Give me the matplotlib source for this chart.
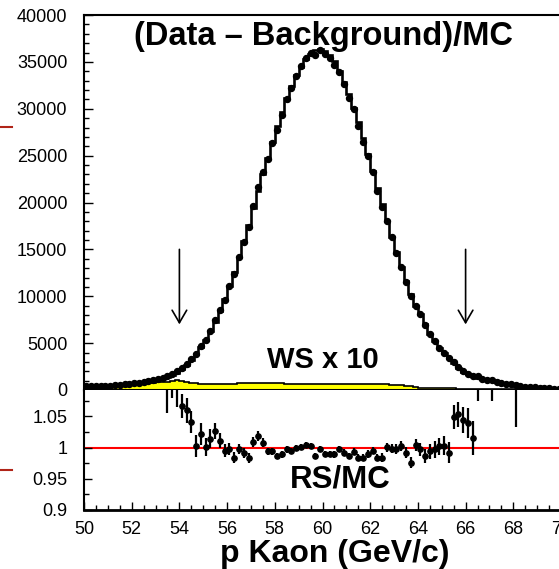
import matplotlib
matplotlib.use("Agg")
import matplotlib.pyplot as plt
from matplotlib.lines import Line2D
from matplotlib.ticker import MultipleLocator
import numpy as np

plt.rcParams['font.family'] = ['Liberation Sans', 'DejaVu Sans']

# MC histogram (RS), 0.2 GeV bins from 50 to 70
mc = np.array([
    400, 410, 420, 430, 450, 470, 510, 550, 590, 640,
    710, 790, 880, 970, 1060, 1150, 1250, 1370, 1560, 1850,
    2200, 2650, 3150, 3800, 4550, 5350, 6250, 7300, 8450, 9700,
    11100, 12600, 14200, 15900, 17650, 19450, 21250, 23050, 24800, 26500,
    28150, 29700, 31100, 32400, 33550, 34500, 35300, 35850, 36250, 36350,
    36150, 35750, 35100, 33980, 32870, 31580, 30130, 28570, 26910, 25170,
    23390, 21590, 19800, 18040, 16320, 14670, 13100, 11620, 10230, 8960,
    8100, 7000, 6000, 5200, 4500, 3950, 3400, 2850, 2350, 1950,
    1680, 1460, 1290, 1150, 1030, 930, 840, 760, 680, 600,
    470, 410, 360, 310, 270, 240, 200, 170, 140, 120,
])

# wrong-sign background x 10
ws = np.array([
    500, 510, 520, 530, 550, 560, 580, 600, 620, 640,
    660, 690, 720, 750, 780, 810, 850, 900, 980, 1040,
    980, 850, 740, 700, 680, 670, 680, 690, 660, 650,
    660, 680, 700, 720, 730, 740, 730, 720, 720, 710,
    700, 700, 690, 690, 680, 680, 680, 670, 670, 660,
    660, 650, 650, 640, 640, 630, 630, 620, 620, 610,
    610, 600, 600, 590, 580, 560, 520, 460, 380, 300,
    250, 220, 210, 200, 190, 180, 170, 170, 160, 160,
    150, 150, 140, 140, 130, 130, 120, 120, 120, 110,
    110, 110, 100, 100, 100, 90, 90, 90, 80, 80,
])

# RS/MC ratio points
ratio_p = [53.5, 53.7, 53.9, 54.1, 54.3, 54.5, 54.7, 54.9, 55.1, 55.3,
           55.5, 55.7, 55.9, 56.1, 56.3, 56.5, 56.7, 56.9, 57.1, 57.3,
           57.5, 57.7, 57.9, 58.1, 58.3, 58.5, 58.7, 58.9, 59.1, 59.3,
           59.5, 59.7, 59.9, 60.1, 60.3, 60.5, 60.7, 60.9, 61.1, 61.3,
           61.5, 61.7, 61.9, 62.1, 62.3, 62.5, 62.7, 62.9, 63.1, 63.3,
           63.5, 63.7, 63.9, 64.1, 64.3, 64.5, 64.7, 64.9, 65.1, 65.3,
           65.5, 65.7, 65.9, 66.1, 66.3, 66.5, 67.1, 68.1]
ratio = [1.10, 1.12, 1.10, 1.067, 1.060, 1.041, 1.003, 1.022, 1.001, 1.014,
         1.027, 1.011, 0.995, 0.998, 0.984, 0.998, 0.992, 0.984, 1.009, 1.019,
         1.008, 0.994, 0.994, 0.986, 0.989, 0.997, 0.995, 0.9995, 1.0005, 1.004,
         1.002, 0.987, 0.998, 0.990, 0.990, 0.989, 0.998, 0.992, 0.987, 0.9935,
         0.984, 0.984, 0.990, 0.995, 0.984, 0.984, 1.0005, 0.998, 0.997, 1.002,
         0.992, 0.976, 1.004, 0.997, 0.986, 0.994, 0.997, 1.002, 1.003, 0.992,
         1.049, 1.053, 1.044, 1.039, 1.015, 1.12, 1.12, 1.15]
ratio_err = [0.045, 0.04, 0.035, 0.019, 0.020, 0.0175, 0.0175, 0.0175, 0.015, 0.015,
             0.013, 0.012, 0.010, 0.010, 0.009, 0.008, 0.008, 0.008, 0.008, 0.008,
             0.007, 0.006, 0.006, 0.005, 0.005, 0.005, 0.005, 0.005, 0.005, 0.005,
             0.005, 0.005, 0.005, 0.005, 0.005, 0.005, 0.005, 0.005, 0.005, 0.005,
             0.005, 0.006, 0.006, 0.006, 0.006, 0.007, 0.007, 0.007, 0.008, 0.008,
             0.009, 0.009, 0.010, 0.010, 0.011, 0.012, 0.013, 0.014, 0.015, 0.017,
             0.019, 0.020, 0.021, 0.024, 0.027, 0.046, 0.046, 0.117]

edges = np.linspace(50, 70, len(mc) + 1)
centers = 0.5 * (edges[1:] + edges[:-1])

# data points = MC scaled by the measured ratio
data = mc.astype(float).copy()
for p, r in zip(ratio_p, ratio):
    data[int(round((p - 50.1) / 0.2))] *= r

fig = plt.figure(figsize=(5.59, 5.69), dpi=100)
ax1 = fig.add_axes([84 / 559, 179 / 569, 477 / 559, 375 / 569])
ax2 = fig.add_axes([84 / 559, 59 / 569, 477 / 559, 120 / 569])

# top panel
ax1.stairs(ws, edges, fill=True, color='#ffff00', zorder=1)
ax1.stairs(ws, edges, color='black', lw=1.2, zorder=2)
ax1.stairs(mc, edges, color='black', lw=1.9, zorder=3)
ax1.plot(centers, data, 'o', color='black', ms=4.3, zorder=4)

arrow = dict(arrowstyle='->, head_length=0.6, head_width=0.35', lw=1.2,
             color='black', mutation_scale=15, shrinkA=0, shrinkB=0)
ax1.annotate('', xy=(54, 7000), xytext=(54, 15000), arrowprops=arrow)
ax1.annotate('', xy=(66, 7000), xytext=(66, 15000), arrowprops=arrow)

ax1.set_xlim(50, 70)
ax1.set_ylim(0, 40000)
ax1.set_yticks(np.arange(0, 40001, 5000))
ax1.yaxis.set_minor_locator(MultipleLocator(1000))
ax1.set_xticks([])
ax1.tick_params(axis='y', which='major', direction='in', length=6.5, width=1,
                labelsize=13, pad=12)
ax1.tick_params(axis='y', which='minor', direction='in', length=3.6, width=1)
ax1.spines['right'].set_visible(False)
for s in ['left', 'top']:
    ax1.spines[s].set_linewidth(1.5)
ax1.spines['bottom'].set_linewidth(2.2)

ax1.text(60.0, 2350, 'WS x 10', ha='center', va='baseline',
         fontsize=21, fontweight='bold')

# bottom panel
ax2.axhline(1.0, color='#ff0000', lw=1.5, zorder=1)
ax2.errorbar(ratio_p, ratio, yerr=ratio_err, fmt='o', color='black',
             ms=3.8, elinewidth=1.6, capsize=0, zorder=3)
ax2.set_xlim(50, 70)
ax2.set_ylim(0.9, 1.092)
ax2.set_yticks([0.9, 0.95, 1.0, 1.05])
ax2.set_yticklabels(['0.9', '0.95', '1', '1.05'])
ax2.yaxis.set_minor_locator(MultipleLocator(0.025))
ax2.set_xticks(np.arange(50, 71, 2))
ax2.xaxis.set_minor_locator(MultipleLocator(0.5))
ax2.tick_params(axis='both', which='major', direction='in', length=6, width=1,
                labelsize=13)
ax2.tick_params(axis='y', which='major', pad=12)
ax2.tick_params(axis='x', which='major', pad=8)
ax2.tick_params(axis='both', which='minor', direction='in', length=3.6, width=1)
ax2.spines['right'].set_visible(False)
ax2.spines['top'].set_visible(False)
ax2.spines['left'].set_linewidth(1.5)
ax2.spines['bottom'].set_linewidth(2.0)
ax2.text(60.75, 0.9365, 'RS/MC', ha='center', va='baseline',
         fontsize=22.5, fontweight='bold')

fig.text(323 / 559, (569 - 45) / 569, '(Data \u2013 Background)/MC',
         ha='center', va='baseline', fontsize=23.5, fontweight='bold')
fig.text(335 / 559, (569 - 562) / 569, 'p Kaon (GeV/c)',
         ha='center', va='baseline', fontsize=23, fontweight='bold')

# red fragments at the left edge
for yy in [127, 470]:
    fig.add_artist(Line2D([0, 12 / 559], [(569 - yy) / 569] * 2,
                          transform=fig.transFigure, color='#b02418', lw=1.5))

fig.savefig('out.png', dpi=100)
